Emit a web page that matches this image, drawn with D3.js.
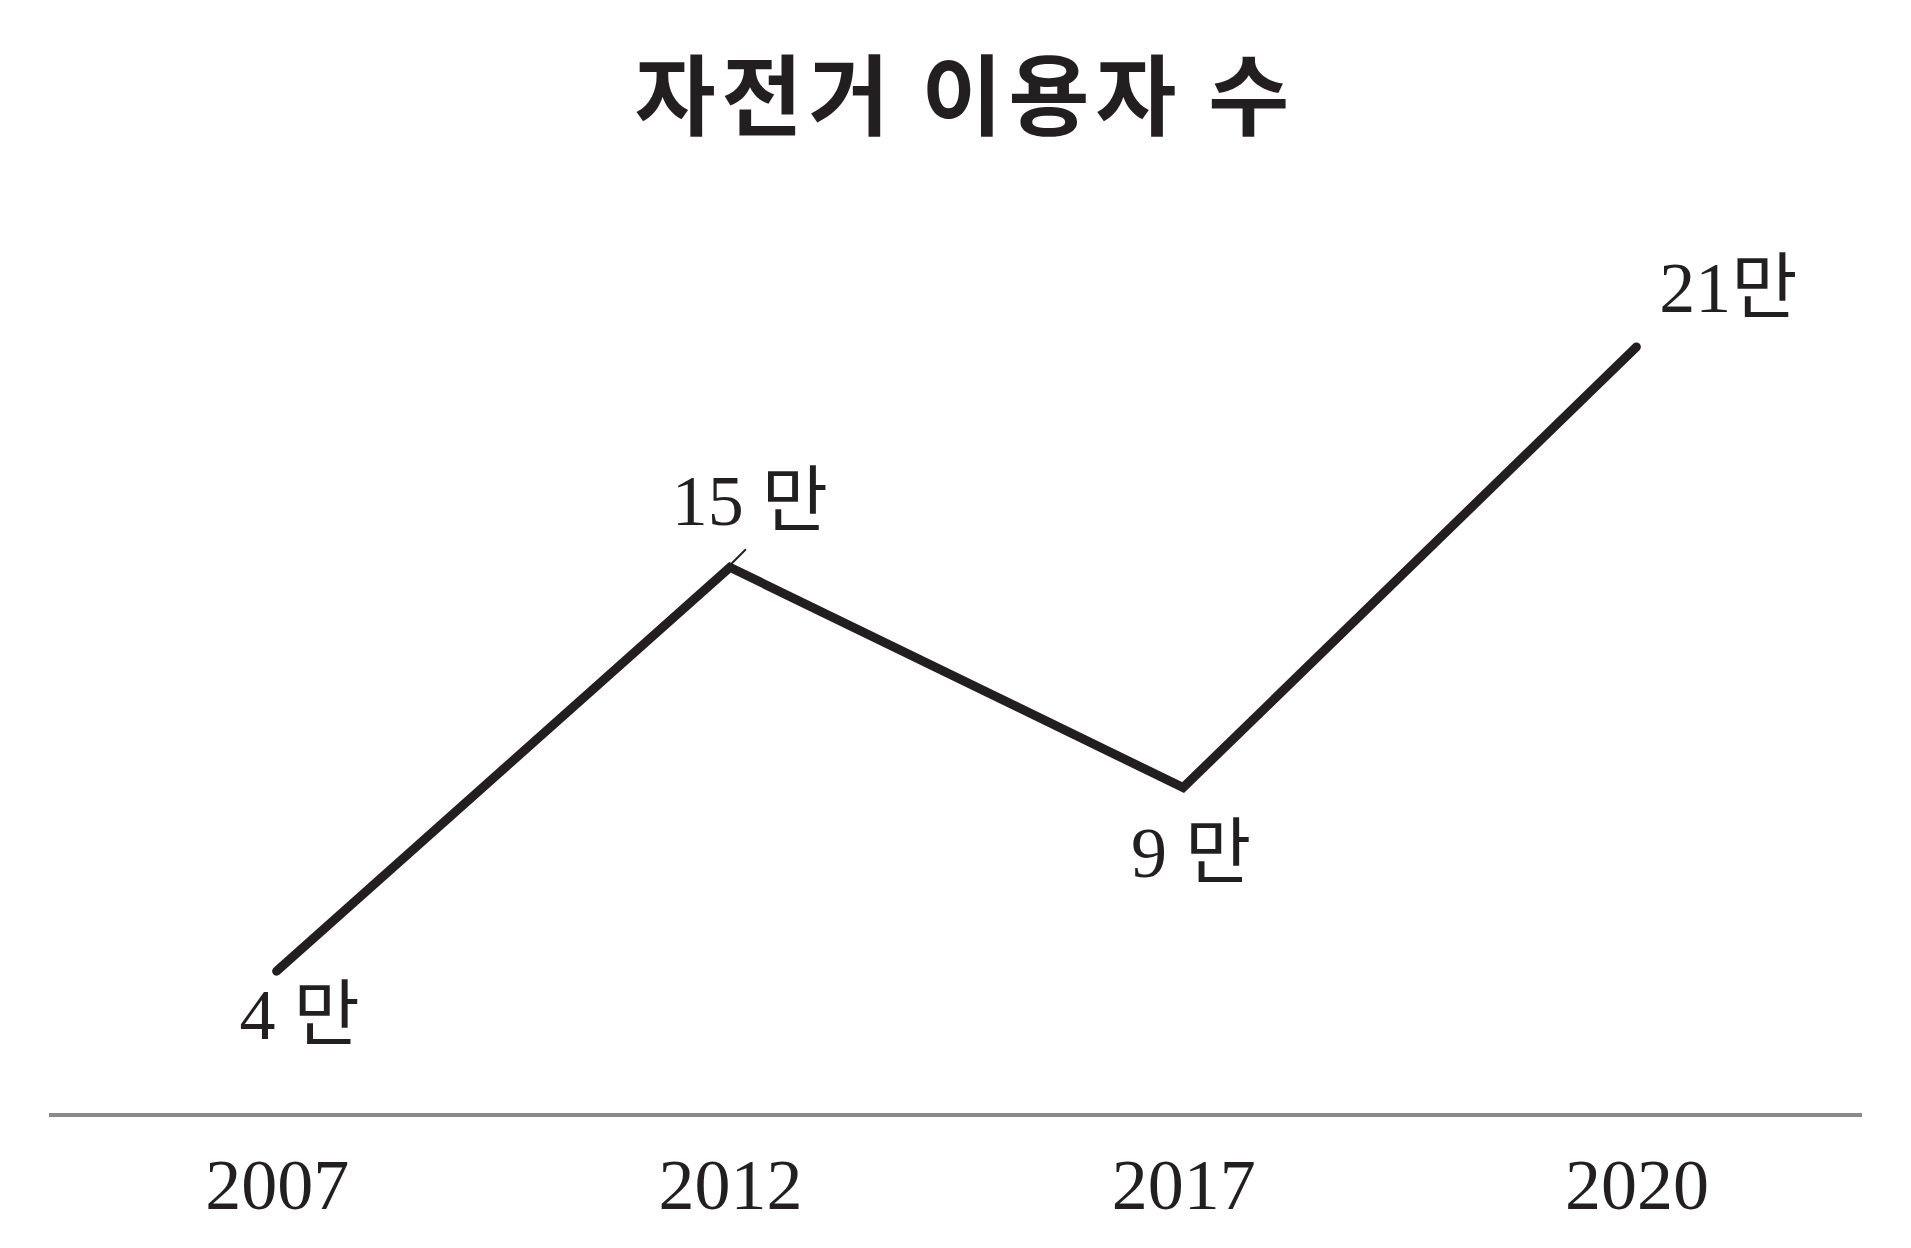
<!DOCTYPE html>
<html>
<head>
<meta charset="utf-8">
<script src="https://cdn.jsdelivr.net/npm/d3@7"></script>
<style>
  html, body { margin: 0; padding: 0; background: #ffffff; }
  svg { display: block; }
</style>
</head>
<body>
<div id="line_graph"></div>
<script>
// data
var years = ["2007", "2012", "2017", "2020"]
var users = [4, 15, 9, 21]           // 만 명
var valueLabels = ["4 만", "15 만", "9 만", "21만"]
var chartTitle = "자전거 이용자 수"

var width = 1911
var height = 1248
var ink = "#231f20"

// where each value label sits relative to its point (dx = label centre, dy = baseline)
var labelOffsets = [[23, 68], [20, -42], [8, 89], [92, -35]]

var svg = d3.select("#line_graph")
    .append("svg")
    .attr("width", width)
    .attr("height", height)

var xScale = d3.scalePoint()
    .domain(years)
    .range([50, 1863])
    .padding(0.5)

var yScale = d3.scaleLinear()
    .domain([0, 21])
    .range([1118, 347])

var points = years.map(function(y, i) { return {year: y, value: users[i], label: valueLabels[i]} })

// title
svg.append("text")
    .attr("x", 965)
    .attr("y", 128)
    .attr("text-anchor", "middle")
    .attr("font-family", "'Noto Sans CJK KR', sans-serif")
    .attr("font-weight", 700)
    .attr("font-size", 88)
    .attr("letter-spacing", 6)
    .attr("fill", ink)
    .text(chartTitle)

// base line with year labels under it
var xAxis = svg.append("g")
    .attr("transform", "translate(0,1115)")
    .call(d3.axisBottom(xScale).tickSize(0).tickPadding(94))
xAxis.select(".domain")
    .attr("d", "M49,0H1862")
    .attr("stroke", "#8a8a8a")
    .attr("stroke-width", 4)
xAxis.selectAll(".tick text")
    .attr("font-family", "'Liberation Serif', serif")
    .attr("font-size", 72)
    .attr("fill", ink)
    .attr("dy", 0)

// the line
svg.append("path")
    .datum(points)
    .attr("fill", "none")
    .attr("stroke", ink)
    .attr("stroke-width", 9)
    .attr("stroke-linecap", "round")
    .attr("stroke-linejoin", "miter")
    .attr("d", d3.line()
        .x(function(d) { return xScale(d.year) })
        .y(function(d) { return yScale(d.value) })
    )

// small stray tick above the 2012 peak
var peak = points[1]
svg.append("line")
    .attr("x1", xScale(peak.year))
    .attr("y1", yScale(peak.value) - 2)
    .attr("x2", xScale(peak.year) + 16)
    .attr("y2", yScale(peak.value) - 18)
    .attr("stroke", ink)
    .attr("stroke-width", 2)

// value labels
svg.selectAll(".value-label")
    .data(points)
    .enter()
    .append("text")
    .attr("class", "value-label")
    .attr("x", function(d, i) { return xScale(d.year) + labelOffsets[i][0] })
    .attr("y", function(d, i) { return yScale(d.value) + labelOffsets[i][1] })
    .attr("text-anchor", "middle")
    .attr("font-family", "'Liberation Serif', 'Noto Sans CJK KR', serif")
    .attr("font-size", 72)
    .attr("fill", ink)
    .text(function(d) { return d.label })
</script>
</body>
</html>
